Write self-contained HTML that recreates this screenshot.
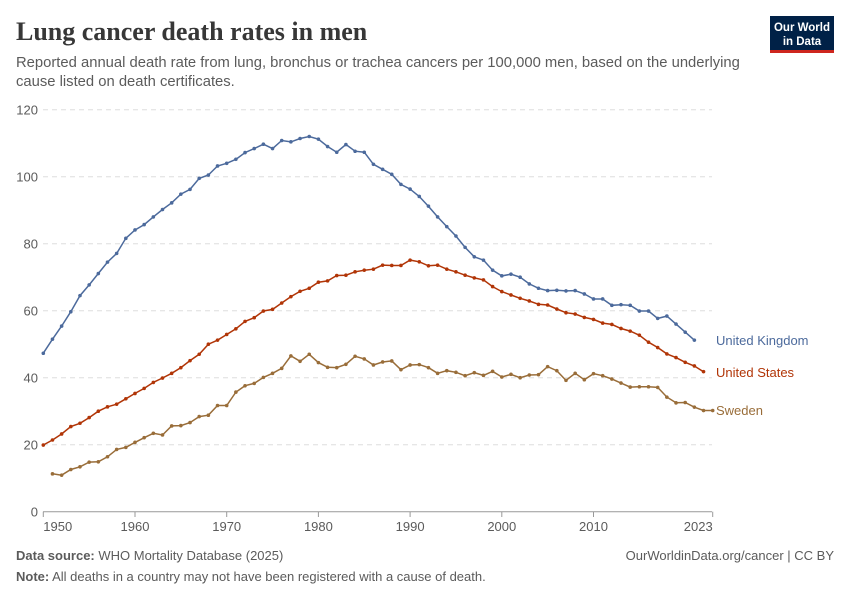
<!DOCTYPE html>
<html><head><meta charset="utf-8"><style>
body{margin:0;background:#fff;width:850px;height:600px;overflow:hidden;font-family:"Liberation Sans",sans-serif}
</style></head><body>
<svg id="s" width="850" height="600" xmlns="http://www.w3.org/2000/svg" style="position:absolute;left:0;top:0">
<text x="16" y="40" font-family="Liberation Serif,serif" font-size="26" font-weight="bold" fill="#373737">Lung cancer death rates in men</text>
<text x="16" y="67" font-size="14.8" fill="#5b5b5b">Reported annual death rate from lung, bronchus or trachea cancers per 100,000 men, based on the underlying</text>
<text x="16" y="86" font-size="14.8" fill="#5b5b5b">cause listed on death certificates.</text>
<rect x="770" y="16" width="64" height="34" fill="#002147"/>
<rect x="770" y="50" width="64" height="3" fill="#ce261e"/>
<text x="802" y="31" font-size="11.5" fill="#fff" text-anchor="middle" font-weight="bold">Our World</text>
<text x="802" y="45" font-size="11.5" fill="#fff" text-anchor="middle" font-weight="bold">in Data</text>
<g id="grid"></g>
<g id="lines"></g>
<text x="16" y="560" font-size="13" fill="#5b5b5b"><tspan font-weight="bold">Data source:</tspan> WHO Mortality Database (2025)</text>
<text x="834" y="560" font-size="13" fill="#5b5b5b" text-anchor="end">OurWorldinData.org/cancer | CC BY</text>
<text x="16" y="581" font-size="13" fill="#5b5b5b"><tspan font-weight="bold">Note:</tspan> All deaths in a country may not have been registered with a cause of death.</text>
</svg>
<script>
const X=y=>43.3+(y-1950)*9.17, Y=v=>511.7-v*3.35;
let g=document.getElementById('grid'),h='';
for(let v=0;v<=120;v+=20){
 if(v>0)h+=`<line x1="43" x2="712" y1="${Y(v)}" y2="${Y(v)}" stroke="#ddd" stroke-dasharray="5,4"/>`;
 h+=`<text x="38" y="${Y(v)+5}" font-size="13" fill="#5b5b5b" text-anchor="end">${v}</text>`;
}
h+=`<line x1="43" x2="712" y1="511.7" y2="511.7" stroke="#999"/>`;
[1950,1960,1970,1980,1990,2000,2010,2023].forEach(y=>{let a=y==1950?'start':y==2023?'end':'middle';h+=`<line x1="${X(y)}" x2="${X(y)}" y1="511.7" y2="517" stroke="#999"/><text x="${X(y)}" y="531" font-size="13" fill="#5b5b5b" text-anchor="${a}">${y}</text>`});
g.innerHTML=h;
const uk=[47.3,51.5,55.4,59.7,64.5,67.7,71.1,74.5,77.1,81.6,84.1,85.7,88,90.2,92.2,94.8,96.2,99.5,100.5,103.2,104,105.2,107.2,108.4,109.7,108.4,110.8,110.4,111.4,112,111.2,109,107.3,109.6,107.6,107.3,103.7,102.2,100.7,97.7,96.3,94.1,91.2,88,85.1,82.3,78.9,76.1,75.1,72.1,70.4,70.9,70,68,66.7,66,66.1,65.9,66,65,63.5,63.5,61.6,61.8,61.6,59.9,59.9,57.7,58.4,56,53.6,51.2];
const us=[19.9,21.4,23.2,25.4,26.4,28.1,30,31.3,32.1,33.7,35.3,36.8,38.6,39.9,41.3,43,45.1,47,50,51.2,52.9,54.6,56.8,57.9,59.9,60.4,62.3,64.2,65.8,66.7,68.5,68.9,70.5,70.6,71.6,72.1,72.4,73.6,73.5,73.5,75.1,74.6,73.4,73.6,72.4,71.6,70.6,69.8,69.2,67.2,65.7,64.7,63.7,62.9,61.9,61.7,60.5,59.4,59,58,57.4,56.3,55.9,54.7,53.9,52.7,50.6,49,47.1,46,44.6,43.5,41.8];
const se=[11.3,10.9,12.6,13.4,14.8,14.9,16.4,18.6,19.2,20.7,22.1,23.4,22.9,25.6,25.7,26.6,28.4,28.8,31.7,31.7,35.7,37.6,38.3,40.1,41.3,42.8,46.5,44.9,47,44.5,43.1,43,44,46.4,45.6,43.8,44.7,45,42.4,43.8,43.9,43,41.3,42.1,41.6,40.6,41.5,40.7,41.9,40.2,41,40,40.8,40.9,43.3,42.1,39.2,41.3,39.4,41.2,40.6,39.6,38.4,37.2,37.3,37.3,37.1,34.2,32.5,32.6,31.2,30.2,30.2];
let L='';
function ser(d,y0,c,name,ly){
 let p=d.map((v,i)=>X(y0+i).toFixed(1)+','+Y(v).toFixed(1));
 L+=`<polyline points="${p.join(' ')}" fill="none" stroke="${c}" stroke-width="1.5"/>`;
 d.forEach((v,i)=>L+=`<circle cx="${X(y0+i)}" cy="${Y(v)}" r="1.8" fill="${c}"/>`);
 L+=`<text x="716" y="${ly}" font-size="13" fill="${c}">${name}</text>`;
}
ser(uk,1950,'#4c6a9c','United Kingdom',345);
ser(us,1950,'#b13507','United States',377);
ser(se,1951,'#996d39','Sweden',415);
document.getElementById('lines').innerHTML=L;
</script>
</body></html>
